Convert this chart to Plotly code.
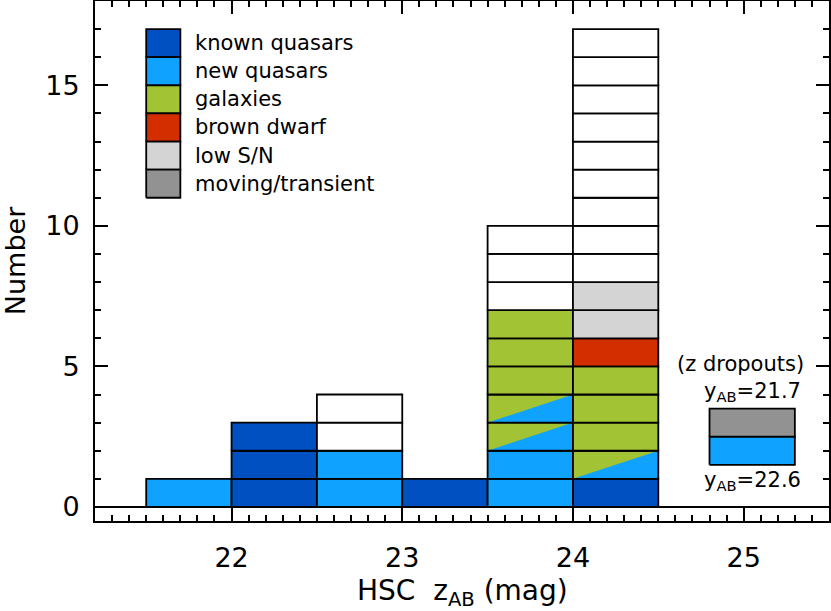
import plotly.graph_objects as go

# histogram bins (HSC z_AB, mag) and counts per class, stacked bottom -> top
bin_lo = [21.5, 22.0, 22.5, 23.0, 23.5, 24.0]
bin_w = 0.5
n_known = [0, 3, 0, 1, 0, 1]
n_new = [1, 0, 2, 0, 2, 0]
n_split = [0, 0, 0, 0, 2, 1]   # new quasar / galaxy (half-half boxes)
n_gal = [0, 0, 0, 0, 3, 3]
n_bd = [0, 0, 0, 0, 0, 1]
n_lowsn = [0, 0, 0, 0, 0, 2]
n_moving = [0, 0, 0, 0, 0, 0]
n_other = [0, 0, 2, 0, 3, 9]

# z dropouts (drawn apart at the right)
drop_lo = 24.8
drop_base = 1.5
drop_classes = ['new', 'moving']
drop_labels = ['y<sub>AB</sub>=22.6', 'y<sub>AB</sub>=21.7']

legend_names = ['known quasars', 'new quasars', 'galaxies', 'brown dwarf', 'low S/N', 'moving/transient']
legend_keys = ['known', 'new', 'gal', 'bd', 'lowsn', 'moving']

colors = {
    'known': '#0050C2',
    'new': '#10A2FF',
    'gal': '#A2C434',
    'bd': '#D22E00',
    'lowsn': '#D4D4D4',
    'moving': '#929292',
    'other': 'white',
}

FONT = 'DejaVu Sans'
LW = 1.8

fig = go.Figure()


def poly(xs, ys, fill, line=True):
    fig.add_trace(go.Scatter(
        x=xs + [xs[0]], y=ys + [ys[0]],
        mode='lines', fill='toself' if fill else None,
        fillcolor=fill, hoverinfo='skip', showlegend=False,
        line=dict(color='black', width=LW if line else 0)
    ))


def box(x0, y0, x1, y1, fill):
    poly([x0, x1, x1, x0], [y0, y0, y1, y1], fill)


stack = [('known', n_known), ('new', n_new), ('split', n_split), ('gal', n_gal),
         ('bd', n_bd), ('lowsn', n_lowsn), ('moving', n_moving), ('other', n_other)]

for i, x0 in enumerate(bin_lo):
    x1 = x0 + bin_w
    y = 0
    for key, counts in stack:
        for k in range(counts[i]):
            if key == 'split':
                poly([x0, x1, x1, x0], [y, y, y + 1, y + 1], colors['gal'], line=False)
                poly([x0, x1, x1], [y, y, y + 1], colors['new'], line=False)
                poly([x0, x1, x1, x0], [y, y, y + 1, y + 1], None)
            else:
                box(x0, y, x1, y + 1, colors[key])
            y += 1

# dropout boxes
for j, key in enumerate(drop_classes):
    box(drop_lo, drop_base + j, drop_lo + bin_w, drop_base + j + 1, colors[key])

# hand-drawn legend
leg_x0, leg_x1, leg_top = 21.5, 21.7, 17
for j, (name, key) in enumerate(zip(legend_names, legend_keys)):
    box(leg_x0, leg_top - j - 1, leg_x1, leg_top - j, colors[key])
    fig.add_annotation(x=leg_x1 + 0.075, y=leg_top - j - 0.5, text=name, showarrow=False,
                       xanchor='left', yanchor='middle', font=dict(family=FONT, size=21, color='black'))

xc = drop_lo + bin_w / 2
txt = dict(showarrow=False, xanchor='center', yanchor='middle',
           font=dict(family=FONT, size=21, color='black'))
fig.add_annotation(x=24.98, y=5.07, text='(z dropouts)', **txt)
fig.add_annotation(x=xc, y=4.08, text=drop_labels[1], **txt)
fig.add_annotation(x=xc, y=0.92, text=drop_labels[0], **txt)

# x axis title
fig.add_annotation(x=0.5, y=-0.138, xref='paper', yref='paper', text='HSC  z<sub>AB</sub> (mag)',
                   showarrow=False, xanchor='center', yanchor='middle',
                   font=dict(family=FONT, size=28, color='black'))

axis_common = dict(
    showline=True, linecolor='black', linewidth=2, mirror='allticks',
    ticks='inside', tickwidth=1.5, tickcolor='black', showgrid=False,
    automargin=False,
    tickfont=dict(family=FONT, size=27, color='black'),
)

fig.update_xaxes(
    range=[21.2, 25.5], dtick=1, tick0=21, ticklen=13,
    minor=dict(dtick=0.1, tick0=21, ticks='inside', ticklen=6, tickwidth=1.5, tickcolor='black'),
    zeroline=False, ticklabelstandoff=12,
    **axis_common
)
fig.update_yaxes(
    range=[-0.5, 18], dtick=5, tick0=0, ticklen=13,
    minor=dict(dtick=1, ticks='inside', ticklen=6, tickwidth=1.5, tickcolor='black'),
    zeroline=True, zerolinecolor='black', zerolinewidth=2, ticklabelstandoff=8,
    title=dict(text='Number', font=dict(family=FONT, size=27, color='black'), standoff=16),
    **axis_common
)

fig.update_layout(
    width=831, height=611,
    margin=dict(l=95, r=2, t=1, b=90),
    paper_bgcolor='white', plot_bgcolor='white',
    showlegend=False,
)

fig.write_html("out.html", config={'displayModeBar': False},
               post_script="document.body.style.margin='0px';")
